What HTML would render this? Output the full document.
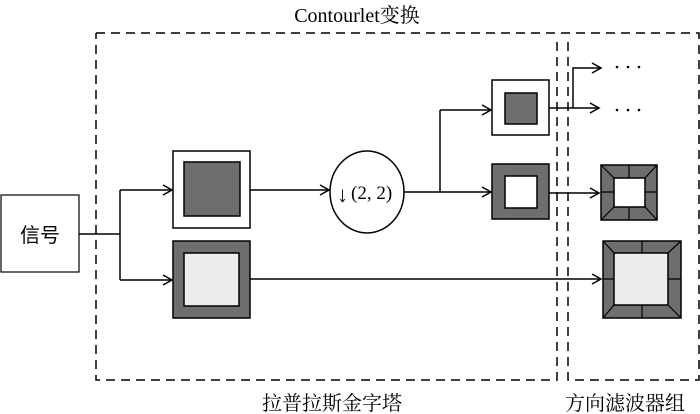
<!DOCTYPE html>
<html><head><meta charset="utf-8"><style>
html,body{margin:0;padding:0;background:#fff;width:700px;height:414px;overflow:hidden}
text{font-family:"Liberation Serif","Noto Serif CJK SC",serif;fill:#000}
</style></head><body>
<svg width="700" height="414" viewBox="0 0 700 414" xmlns="http://www.w3.org/2000/svg">
<defs><marker id="a" markerWidth="12" markerHeight="12" refX="10" refY="6" orient="auto" markerUnits="userSpaceOnUse"><path d="M1,1 L10,6 L1,11" fill="none" stroke="#000" stroke-width="1.5"/></marker></defs>
<g fill="none" stroke="#000" stroke-width="1.5" stroke-dasharray="9,6">
<path d="M96,33 H699 V380 H568 V42"/>
<path d="M557,42 V380 H96 V33"/>
</g>
<text x="357" y="22" font-size="20" text-anchor="middle">Contourlet变换</text>
<text x="332" y="410" font-size="20" text-anchor="middle" style="font-family:'Noto Serif CJK SC',serif">拉普拉斯金字塔</text>
<text x="625" y="410" font-size="20" text-anchor="middle" style="font-family:'Noto Serif CJK SC',serif">方向滤波器组</text>
<rect x="1" y="195" width="78" height="77" fill="#fff" stroke="#000" stroke-width="1.2"/>
<text x="40" y="242" font-size="20" text-anchor="middle" style="font-family:'Noto Sans CJK SC',sans-serif">信号</text>
<g fill="none" stroke="#000" stroke-width="1.5">
<path d="M79,234 H120 M120,190 V280"/>
<path d="M120,190 H172" marker-end="url(#a)"/>
<path d="M120,280 H172" marker-end="url(#a)"/>
<path d="M250,190 H329" marker-end="url(#a)"/>
<path d="M403,192 H440 M440,110 V192"/>
<path d="M440,110 H491" marker-end="url(#a)"/>
<path d="M440,192 H491" marker-end="url(#a)"/>
<path d="M549,108 H599" marker-end="url(#a)"/>
<path d="M573,108 V68 H601" marker-end="url(#a)"/>
<path d="M549,193 H599" marker-end="url(#a)"/>
<path d="M250,279 H601" marker-end="url(#a)"/>
</g>
<g fill="#000"><circle cx="617" cy="67" r="1.3"/><circle cx="628" cy="67" r="1.3"/><circle cx="639" cy="67" r="1.3"/>
<circle cx="617" cy="110" r="1.3"/><circle cx="628" cy="110" r="1.3"/><circle cx="639" cy="110" r="1.3"/></g>
<g stroke="#000" stroke-width="1.5">
<rect x="173" y="151" width="77" height="77" fill="#fff"/>
<rect x="184" y="162" width="56" height="54" fill="#6e6e6e"/>
<rect x="173" y="241" width="77" height="77" fill="#6e6e6e"/>
<rect x="184" y="253" width="55" height="53" fill="#ececec"/>
<ellipse cx="367" cy="192" rx="37" ry="41" fill="#fff"/>
<rect x="492" y="80" width="57" height="55" fill="#fff"/>
<rect x="505" y="93" width="32" height="31" fill="#6e6e6e"/>
<rect x="492" y="164" width="57" height="55" fill="#6e6e6e"/>
<rect x="505" y="176" width="32" height="32" fill="#fff"/>
<rect x="601" y="165" width="56" height="55" fill="#6e6e6e"/>
<rect x="614" y="178" width="31" height="29" fill="#fff"/>
<path d="M601,165 L614,178 M657,165 L645,178 M601,220 L614,207 M657,220 L645,207 M629,165 V178 M629,207 V220 M601,192 H614 M645,192 H657" fill="none" stroke-width="1.2"/>
<rect x="603" y="241" width="78" height="77" fill="#6e6e6e"/>
<rect x="614" y="253" width="54" height="52" fill="#ececec"/>
<path d="M603,241 L614,253 M681,241 L668,253 M603,318 L614,305 M681,318 L668,305 M642,241 V253 M642,305 V318 M603,279 H614 M668,279 H681" fill="none" stroke-width="1.2"/>
</g>
<text x="337" y="202" font-size="22">↓</text>
<text x="351" y="199" font-size="19">(2, 2)</text>
</svg>
</body></html>
